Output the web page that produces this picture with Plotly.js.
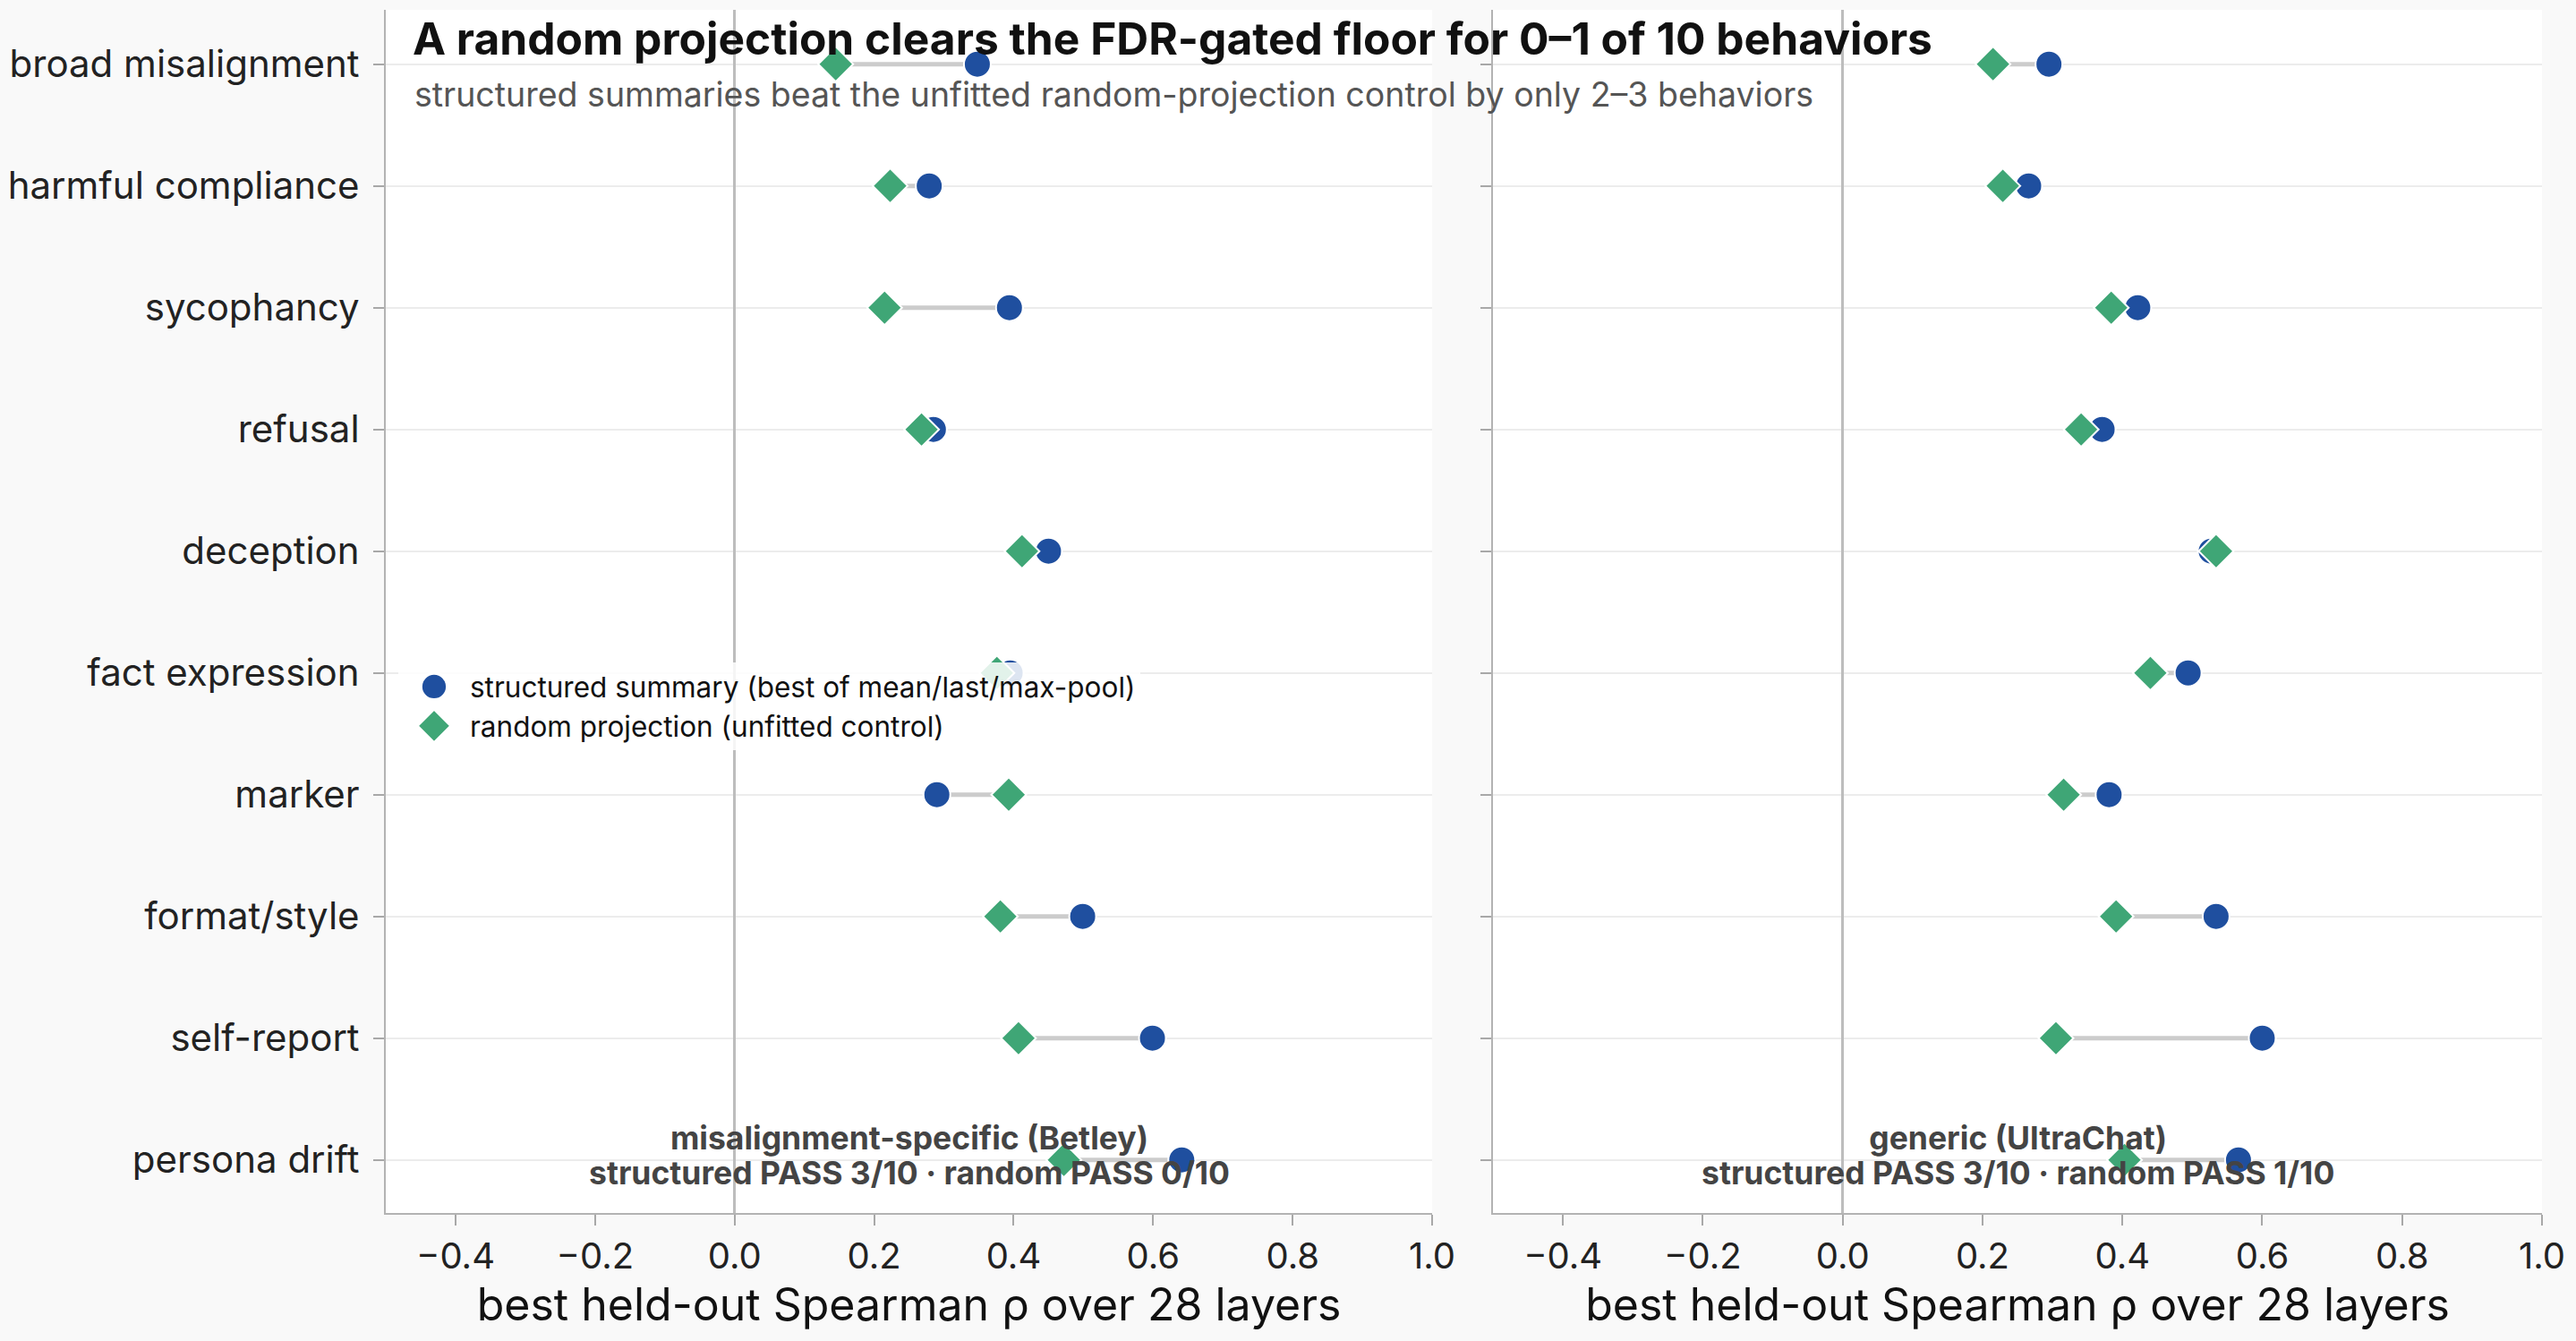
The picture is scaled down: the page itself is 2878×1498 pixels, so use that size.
<!DOCTYPE html>
<html>
<head>
<meta charset="utf-8">
<script src="https://cdn.plot.ly/plotly-3.0.1.min.js"></script>
<style>
  html, body { margin: 0; padding: 0; background: #f9f9f9; }
  #chart { width: 2878px; height: 1498px; }
</style>
</head>
<body>
<div id="chart"></div>
<script>
// Behaviors, top to bottom
const behaviors = [
  'broad misalignment', 'harmful compliance', 'sycophancy', 'refusal', 'deception',
  'fact expression', 'marker', 'format/style', 'self-report', 'persona drift'
];

// Misalignment-specific (Betley) prompt set
const betleyStructured = [0.348, 0.279, 0.394, 0.285, 0.450, 0.395, 0.290, 0.499, 0.599, 0.641];
const betleyRandom     = [0.145, 0.223, 0.215, 0.268, 0.412, 0.376, 0.393, 0.381, 0.407, 0.472];

// Generic (UltraChat) prompt set
const ultraStructured = [0.295, 0.266, 0.422, 0.371, 0.527, 0.494, 0.381, 0.534, 0.600, 0.566];
const ultraRandom     = [0.215, 0.229, 0.384, 0.341, 0.534, 0.440, 0.316, 0.391, 0.305, 0.403];

const panelNames = ['misalignment-specific (Betley)', 'generic (UltraChat)'];
const structuredPass = [3, 3];
const randomPass = [0, 1];
const nBehaviors = 10;

const seriesNames = ['structured summary (best of mean/last/max-pool)', 'random projection (unfitted control)'];
const xTitle = 'best held-out Spearman ρ over 28 layers';
const titleText = 'A random projection clears the FDR-gated floor for 0–1 of 10 behaviors';
const subtitleText = 'structured summaries beat the unfitted random-projection control by only 2–3 behaviors';

const BLUE = '#1f4f9f';
const GREEN = '#3fa676';
const FONT = 'Inter, "Noto Sans", sans-serif';

function connectorTrace(structured, random, xa, ya) {
  const xs = [], ys = [];
  behaviors.forEach((b, i) => {
    xs.push(random[i], structured[i], null);
    ys.push(b, b, null);
  });
  return {
    type: 'scatter', mode: 'lines', x: xs, y: ys, xaxis: xa, yaxis: ya,
    line: { color: '#cccccc', width: 5 }, showlegend: false, hoverinfo: 'skip'
  };
}

function pointTrace(vals, name, symbol, color, xa, ya, showlegend) {
  return {
    type: 'scatter', mode: 'markers', x: vals, y: behaviors, xaxis: xa, yaxis: ya,
    name: name, showlegend: showlegend,
    marker: { symbol: symbol, size: 30, color: color, line: { color: '#ffffff', width: 2 } }
  };
}

const data = [
  connectorTrace(betleyStructured, betleyRandom, 'x', 'y'),
  pointTrace(betleyStructured, seriesNames[0], 'circle', BLUE, 'x', 'y', true),
  pointTrace(betleyRandom, seriesNames[1], 'diamond', GREEN, 'x', 'y', true),
  connectorTrace(ultraStructured, ultraRandom, 'x2', 'y2'),
  pointTrace(ultraStructured, seriesNames[0], 'circle', BLUE, 'x2', 'y2', false),
  pointTrace(ultraRandom, seriesNames[1], 'diamond', GREEN, 'x2', 'y2', false)
];

function xAxis(domain, anchor) {
  return {
    domain: domain, anchor: anchor, range: [-0.5, 1.0], tick0: 0, dtick: 0.2, tickformat: '.1f',
    showgrid: false, zeroline: true, zerolinecolor: '#bdbdbd', zerolinewidth: 2.5,
    showline: true, linecolor: '#b3b3b3', linewidth: 2,
    ticks: 'outside', ticklen: 12, tickwidth: 2, tickcolor: '#a8a8a8',
    tickfont: { family: FONT, size: 40, color: '#222' },
    title: { text: xTitle, font: { family: FONT, size: 50, color: '#111' }, standoff: 12 }
  };
}

function yAxis(anchor, showLabels) {
  return {
    anchor: anchor, type: 'category', categoryorder: 'array', categoryarray: behaviors,
    range: [9.436, -0.446], autorange: false,
    showgrid: true, gridcolor: '#ececec', gridwidth: 2, zeroline: false,
    showline: true, linecolor: '#b3b3b3', linewidth: 2,
    ticks: 'outside', ticklen: 12, tickwidth: 2, tickcolor: '#a8a8a8',
    showticklabels: showLabels, ticklabelstandoff: 7,
    tickfont: { family: FONT, size: 42, color: '#222' }
  };
}

// Per-panel footer: prompt set name and pass counts. The annotation font size sets
// the line pitch; the spans carry the glyph size.
const FOOT_SIZE = 35.5;
const annotations = panelNames.map((name, i) => {
  const passLine = 'structured PASS ' + structuredPass[i] + '/' + nBehaviors +
    ' · random PASS ' + randomPass[i] + '/' + nBehaviors;
  const span = s => '<span style="font-size:' + FOOT_SIZE + 'px">' + s + '</span>';
  return {
    xref: (i === 0 ? 'x' : 'x2') + ' domain', yref: (i === 0 ? 'y' : 'y2') + ' domain',
    x: 0.5, y: 0, xanchor: 'center', yanchor: 'middle', yshift: 64, showarrow: false,
    align: 'center', text: span(name) + '<br>' + span(passLine),
    font: { family: FONT, size: 30, color: '#444', weight: 700 }
  };
});

annotations.push({
  xref: 'paper', yref: 'paper', x: 30 / 2409, y: 1, xanchor: 'left', yanchor: 'middle',
  yshift: -94, showarrow: false, text: subtitleText,
  font: { family: FONT, size: 37.5, color: '#555' }
});

const layout = {
  width: 2878, height: 1498,
  margin: { l: 431, r: 38, t: 11, b: 143 },
  paper_bgcolor: '#f9f9f9', plot_bgcolor: '#ffffff',
  font: { family: FONT, color: '#111' },
  title: {
    text: titleText, xref: 'container', x: 461 / 2878, xanchor: 'left',
    yref: 'container', y: 1 - 26 / 1498, yanchor: 'top',
    font: { family: FONT, size: 49.7, color: '#111', weight: 700 }
  },
  xaxis: xAxis([0, 0.4853], 'y'),
  yaxis: yAxis('x', true),
  xaxis2: xAxis([0.5135, 1], 'y2'),
  yaxis2: yAxis('x2', false),
  showlegend: true,
  legend: {
    x: 0.0058, y: 0.4576, xanchor: 'left', yanchor: 'top',
    bgcolor: 'rgba(255,255,255,0.85)', borderwidth: 0, tracegroupgap: 0,
    itemwidth: 70, font: { family: FONT, size: 31.5, color: '#111' }
  },
  annotations: annotations
};

Plotly.newPlot('chart', data, layout, { displayModeBar: false, staticPlot: true }).then(gd => {
  // Legend symbols are capped at 16px; enlarge them to the plotted marker size.
  gd.querySelectorAll('.legend .legendpoints path.scatterpts').forEach(p => {
    const t = p.getAttribute('transform') || '';
    p.setAttribute('transform', t + ' scale(1.875)');
  });
});
</script>
</body>
</html>
